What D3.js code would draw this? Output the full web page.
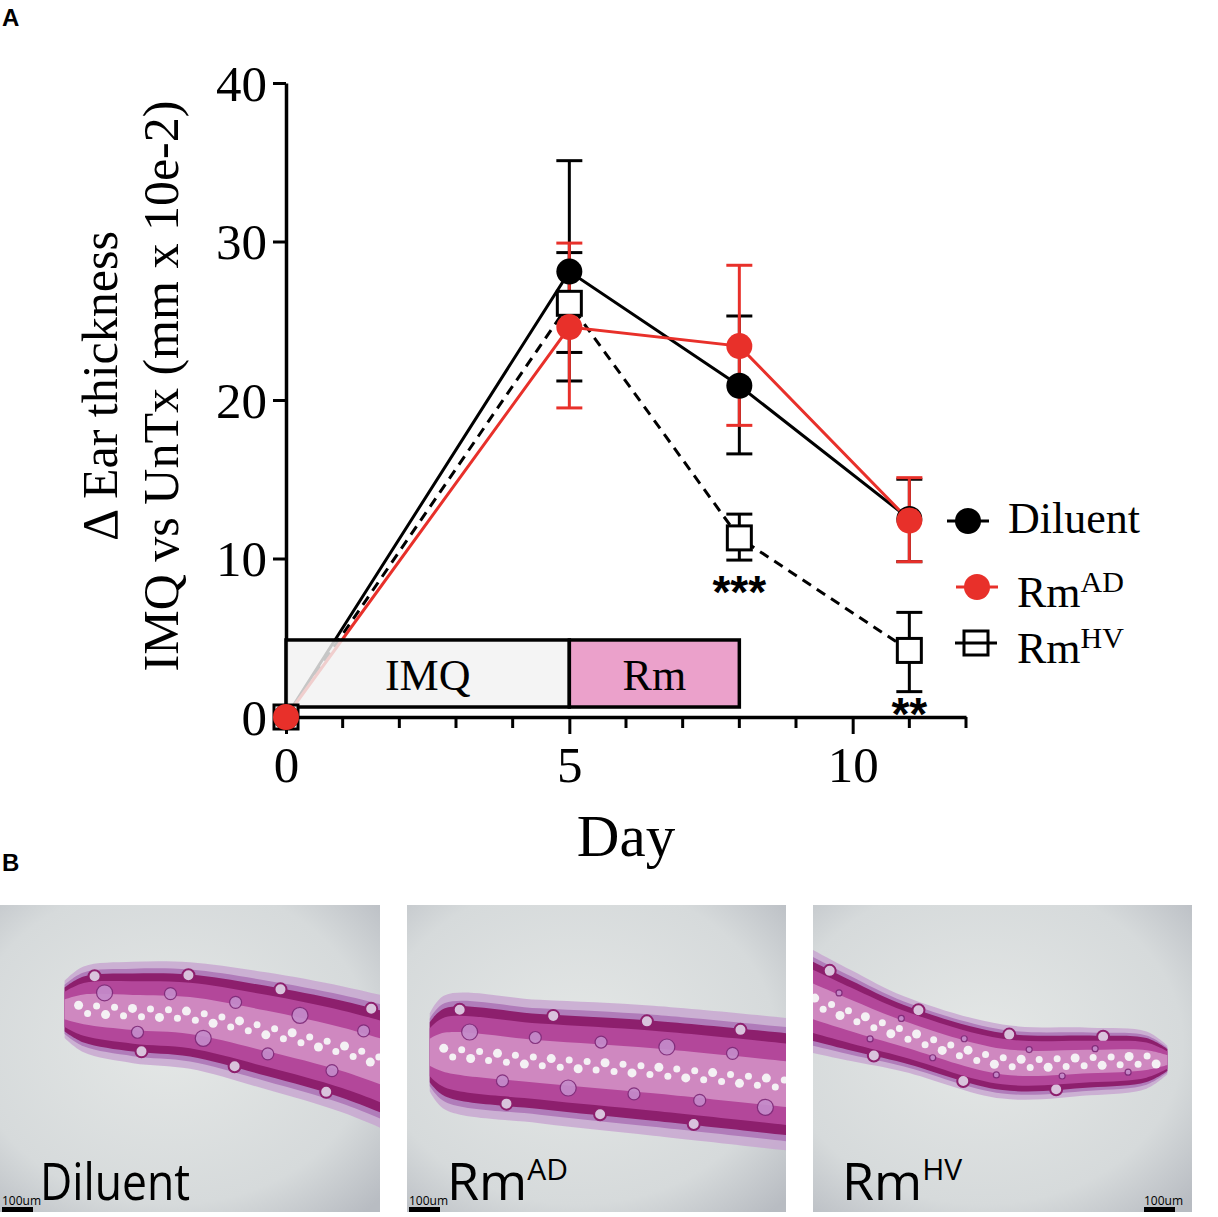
<!DOCTYPE html>
<html lang="en">
<head>
<meta charset="UTF-8">
<title>Ear thickness</title>
<script src="https://cdn.jsdelivr.net/npm/d3@7"></script>
<style>
  body { margin: 0; background: #fff; }
  svg { display: block; }
  .serif { font-family: "Liberation Serif", "Times New Roman", serif; }
</style>
</head>
<body>
<svg width="1218" height="1217"></svg>
<script>
// ---- data ----
const days = [0, 5, 8, 11];
const diluentMean = [0, 28.1, 20.9, 12.5];
const diluentLow  = [0, 21.2, 16.6, 9.8];
const diluentHigh = [0, 35.1, 25.3, 15.0];
const rmADMean = [0, 24.6, 23.4, 12.4];
const rmADLow  = [0, 19.5, 18.4, 9.8];
const rmADHigh = [0, 29.9, 28.5, 15.1];
const rmHVMean = [0, 26.1, 11.3, 4.2];
const rmHVLow  = [0, 23.0, 9.9, 1.6];
const rmHVHigh = [0, 29.3, 12.8, 6.6];

const yTicks = [0, 10, 20, 30, 40];
const xMajor = [0, 5, 10];
const xMinor = [1, 2, 3, 4, 6, 7, 8, 9, 11, 12];

// treatment periods (day start, day end)
const periods = [
  { label: "IMQ", start: 0, end: 5, fill: "#f1f1f2" },
  { label: "Rm", start: 5, end: 8, fill: "#e78cbf" }
];
const periodLow = 0.63, periodHigh = 4.86;

// significance marks: day, text
const sigDays = [8, 11];
const sigText = ["***", "**"];

const panelNames = ["Diluent", "Rm", "Rm"];
const panelSups = ["", "AD", "HV"];

const svg = d3.select("svg");
const x = d3.scaleLinear().domain([0, 12]).range([286, 966]);
const y = d3.scaleLinear().domain([0, 40]).range([717, 83]);

const series = [
  { name: "Rm", sup: "HV", mean: rmHVMean, low: rmHVLow, high: rmHVHigh, color: "#000", dash: "10,7", shape: "square" },
  { name: "Diluent", sup: "", mean: diluentMean, low: diluentLow, high: diluentHigh, color: "#000", dash: null, shape: "circle" },
  { name: "Rm", sup: "AD", mean: rmADMean, low: rmADLow, high: rmADHigh, color: "#e8302a", dash: null, shape: "circle" }
];
series.forEach(s => { s.points = days.map((d, i) => ({ day: d, v: s.mean[i], lo: s.low[i], hi: s.high[i] })); });

// panel letters
svg.append("text").attr("x", 2).attr("y", 26)
  .style("font-family", "Liberation Sans, Arial, sans-serif").style("font-weight", "bold").style("font-size", "24px").text("A");
svg.append("text").attr("x", 2).attr("y", 871)
  .style("font-family", "Liberation Sans, Arial, sans-serif").style("font-weight", "bold").style("font-size", "24px").text("B");

// ---- axes ----
const yAxis = svg.append("g").attr("transform", "translate(286,0)")
  .call(d3.axisLeft(y).tickValues(yTicks).tickSize(13).tickSizeOuter(0).tickPadding(6).tickFormat(d3.format("d")));
const xAxis = svg.append("g").attr("transform", "translate(0,717)")
  .call(d3.axisBottom(x).tickValues(xMajor).tickSize(17).tickSizeOuter(0).tickPadding(12).tickFormat(d3.format("d")));
xAxis.selectAll(".minor").data(xMinor).join("line").attr("class", "minor")
  .attr("x1", d => x(d)).attr("x2", d => x(d)).attr("y1", 0).attr("y2", 11);
[yAxis, xAxis].forEach(g => {
  g.select(".domain").attr("stroke", "#000").attr("stroke-width", 3.5);
  g.selectAll("line").attr("stroke", "#000").attr("stroke-width", 3);
  g.selectAll("text").attr("class", "serif").attr("fill", "#000").style("font-size", "51px");
});
yAxis.selectAll("text").attr("dy", "0.34em");

svg.append("text").attr("class", "serif").attr("x", x(6)).attr("y", 856)
  .attr("text-anchor", "middle").style("font-size", "59px").text("Day");

const yLab = svg.append("text").attr("class", "serif").attr("text-anchor", "middle")
  .attr("transform", "translate(0,386) rotate(-90)").style("font-size", "50px");
yLab.append("tspan").attr("x", 0).attr("y", 117).text("Δ Ear thickness");
yLab.append("tspan").attr("x", 0).attr("y", 178).text("IMQ vs UnTx (mm x 10e-2)");

// ---- error bars ----
const cap = 13;
series.forEach(s => {
  const g = svg.append("g").attr("stroke", s.color).attr("stroke-width", 3).attr("fill", "none");
  const pts = s.points.filter(p => p.hi > p.lo);
  g.selectAll(".stem").data(pts).join("line")
    .attr("x1", p => x(p.day)).attr("x2", p => x(p.day)).attr("y1", p => y(p.lo)).attr("y2", p => y(p.hi));
  g.selectAll(".capHi").data(pts).join("line").attr("class", "capHi")
    .attr("x1", p => x(p.day) - cap).attr("x2", p => x(p.day) + cap).attr("y1", p => y(p.hi)).attr("y2", p => y(p.hi));
  g.selectAll(".capLo").data(pts).join("line").attr("class", "capLo")
    .attr("x1", p => x(p.day) - cap).attr("x2", p => x(p.day) + cap).attr("y1", p => y(p.lo)).attr("y2", p => y(p.lo));
});

// ---- lines ----
const line = d3.line().x(p => x(p.day)).y(p => y(p.v));
series.forEach(s => {
  svg.append("path").attr("d", line(s.points)).attr("fill", "none")
    .attr("stroke", s.color).attr("stroke-width", 3).attr("stroke-dasharray", s.dash);
});

// ---- treatment boxes ----
const pg = svg.append("g");
pg.selectAll("rect").data(periods).join("rect")
  .attr("x", d => x(d.start)).attr("width", d => x(d.end) - x(d.start))
  .attr("y", y(periodHigh)).attr("height", y(periodLow) - y(periodHigh))
  .attr("fill", d => d.fill).attr("fill-opacity", 0.82)
  .attr("stroke", "#000").attr("stroke-width", 3.5);
pg.selectAll("text").data(periods).join("text").attr("class", "serif")
  .attr("x", d => (x(d.start) + x(d.end)) / 2).attr("y", 690)
  .attr("text-anchor", "middle").style("font-size", "44px").text(d => d.label);

// ---- markers ----
function drawMarker(g, shape, color, cx, cy) {
  if (shape === "circle") {
    g.append("circle").attr("cx", cx).attr("cy", cy).attr("r", 13).attr("fill", color);
  } else {
    g.append("rect").attr("x", cx - 12).attr("y", cy - 12).attr("width", 24).attr("height", 24)
      .attr("fill", "#fff").attr("stroke", color).attr("stroke-width", 3);
  }
}
series.forEach(s => {
  const g = svg.append("g");
  s.points.forEach(p => drawMarker(g, s.shape, s.color, x(p.day), y(p.v)));
});

// ---- significance ----
const hv = series[0];
sigDays.forEach((d, i) => {
  const lo = hv.low[days.indexOf(d)];
  svg.append("text").attr("x", x(d)).attr("y", y(lo) + (i === 0 ? 48 : 38))
    .attr("text-anchor", "middle")
    .style("font-family", "Liberation Sans, Arial, sans-serif").style("font-weight", "bold").style("font-size", "46px")
    .text(sigText[i]);
});

// ---- legend ----
const legendOrder = [series[1], series[2], series[0]];
const legendY = [521, 587, 643];
const legendX = [968, 977, 976];
const legendTextX = [1008, 1017, 1017];
legendOrder.forEach((s, i) => {
  const g = svg.append("g");
  const cy = legendY[i], cx = legendX[i];
  if (s.shape === "square") {
    drawMarker(g, s.shape, s.color, cx, cy);
    g.select("rect").attr("fill", "none");
  }
  g.append("line").attr("x1", cx - 21).attr("x2", cx + 21).attr("y1", cy).attr("y2", cy)
    .attr("stroke", s.color).attr("stroke-width", 3);
  if (s.shape === "circle") drawMarker(g, s.shape, s.color, cx, cy);
  const t = g.append("text").attr("class", "serif").attr("x", legendTextX[i]).attr("y", cy + (i === 0 ? 12 : 20))
    .style("font-size", "44px").text(s.name);
  if (s.sup) t.append("tspan").attr("dy", -15).style("font-size", "30px").text(s.sup);
});

// ---- panel B: histology sections (stylised) ----
const imgX = [0, 407, 813], imgW = [380, 379, 379], imgY = 905, imgH = 307;
// section outline: [x fraction, y fraction, thickness px]
const tissue1 = [[0.17, 0.34, 44], [0.22, 0.34, 66], [0.35, 0.35, 78], [0.5, 0.36, 82], [0.7, 0.41, 90], [0.9, 0.47, 97], [1.05, 0.53, 105]];
const tissue2 = [[0.06, 0.48, 60], [0.1, 0.48, 88], [0.35, 0.51, 95], [0.65, 0.54, 100], [1.05, 0.59, 102]];
const tissue3 = [[-0.03, 0.30, 82], [0.1, 0.36, 70], [0.24, 0.42, 58], [0.5, 0.51, 57], [0.73, 0.51, 52], [0.88, 0.505, 44], [0.935, 0.505, 22]];
const tissues = [tissue1, tissue2, tissue3];
const labelX = [40, 40, 29];

const defs = svg.append("defs");
const grad = defs.append("radialGradient").attr("id", "slide").attr("cx", "45%").attr("cy", "45%").attr("r", "75%");
grad.append("stop").attr("offset", "0%").attr("stop-color", "#e4e7e6");
grad.append("stop").attr("offset", "70%").attr("stop-color", "#d6dadb");
grad.append("stop").attr("offset", "100%").attr("stop-color", "#b8bcc2");

tissues.forEach((pts, k) => {
  const w = imgW[k];
  defs.append("clipPath").attr("id", "clip" + k).append("rect").attr("width", w).attr("height", imgH);
  const g = svg.append("g").attr("transform", `translate(${imgX[k]},${imgY})`);
  const inner = g.append("g").attr("clip-path", `url(#clip${k})`);
  inner.append("rect").attr("width", w).attr("height", imgH).attr("fill", "url(#slide)");
  const sx = d3.scaleLinear().domain([0, 1]).range([0, w]);
  const sy = d3.scaleLinear().domain([0, 1]).range([0, imgH]);
  const band = f => d3.area().curve(d3.curveCatmullRom)
    .x(d => sx(d[0])).y0(d => sy(d[1]) - d[2] * f / 2).y1(d => sy(d[1]) + d[2] * f / 2);
  const mid = inner.append("path").attr("d", d3.line().curve(d3.curveCatmullRom).x(d => sx(d[0])).y(d => sy(d[1]))(pts))
    .attr("fill", "none").attr("stroke", "none");
  const node = mid.node();
  const len = node.getTotalLength();
  const halfAt = l => {
    const p = node.getPointAtLength(l);
    const i = d3.bisector(d => sx(d[0])).left(pts, p.x);
    const a = pts[Math.max(0, i - 1)], b = pts[Math.min(pts.length - 1, i)];
    const t = sx(b[0]) === sx(a[0]) ? 0 : (p.x - sx(a[0])) / (sx(b[0]) - sx(a[0]));
    return (a[2] + (b[2] - a[2]) * t) / 2;
  };
  inner.append("path").attr("d", band(1.3)(pts)).attr("fill", "#c7a4cf").attr("opacity", 0.8);
  inner.append("path").attr("d", band(1.12)(pts)).attr("fill", "#b07cba");
  inner.append("path").attr("d", band(1.0)(pts)).attr("fill", "#8d1f6d");
  // follicle bumps along the edges
  const bumps = d3.range(30, len - 20, 47);
  inner.selectAll(".bump").data(bumps).join("circle")
    .attr("cx", l => node.getPointAtLength(l).x)
    .attr("cy", (l, i) => node.getPointAtLength(l).y + (i % 2 ? 1 : -1) * halfAt(l) * 0.98)
    .attr("r", 6).attr("fill", "#d9c3dc").attr("stroke", "#8d1f6d").attr("stroke-width", 2);
  inner.append("path").attr("d", band(0.8)(pts)).attr("fill", "#b3479a");
  inner.append("path").attr("d", band(0.45)(pts)).attr("fill", "#cf88c0");
  // glands in the dermis
  const glands = d3.range(40, len - 25, 33);
  inner.selectAll(".gland").data(glands).join("circle")
    .attr("cx", l => node.getPointAtLength(l).x)
    .attr("cy", (l, i) => node.getPointAtLength(l).y + (i % 2 ? 1 : -1) * halfAt(l) * 0.5)
    .attr("r", (l, i) => (k === 2 ? 3 : (i % 3 === 0 ? 8 : 6)))
    .attr("fill", "#c48ccb").attr("stroke", "#7d2a78").attr("stroke-width", 1.2).attr("opacity", 0.9);
  // cartilage row of white cells
  const cells = d3.range(14, len - 10, 9);
  inner.selectAll(".cell").data(cells).join("circle")
    .attr("cx", l => node.getPointAtLength(l).x)
    .attr("cy", (l, i) => node.getPointAtLength(l).y + (i % 2 ? 4 : -4))
    .attr("r", (l, i) => (i % 3 === 0 ? 4.5 : 3.5))
    .attr("fill", "#f4f1f4");
  // label
  const t = g.append("text").attr("x", labelX[k]).attr("y", 295)
    .style("font-family", "Open Sans, Noto Sans, sans-serif").style("font-size", "52px").attr("fill", "#000")
    .text(panelNames[k]);
  if (k === 0) t.attr("textLength", 150).attr("lengthAdjust", "spacingAndGlyphs");
  if (panelSups[k]) t.append("tspan").attr("dy", -20).style("font-size", "30px").text(panelSups[k]);
  // scale bar
  const bx = k === 2 ? w - 48 : 2;
  g.append("rect").attr("x", bx).attr("y", 302).attr("width", 31).attr("height", 5).attr("fill", "#000");
  g.append("text").attr("x", bx).attr("y", 300)
    .style("font-family", "Open Sans, Noto Sans, sans-serif").style("font-size", "12px").attr("fill", "#000").text("100um");
});
</script>
</body>
</html>
